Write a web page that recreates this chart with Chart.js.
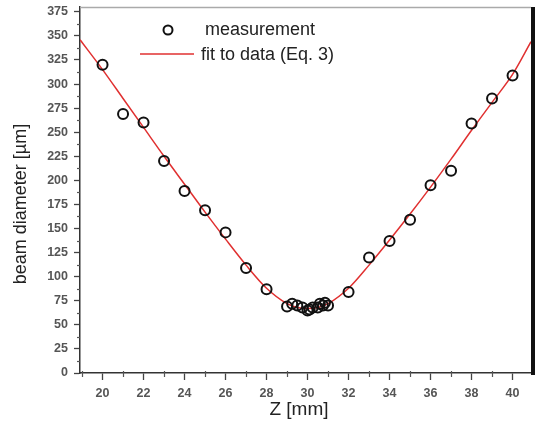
<!DOCTYPE html>
<html><head><meta charset="utf-8">
<script src="https://cdn.jsdelivr.net/npm/chart.js@4/dist/chart.umd.min.js"></script>
<style>html,body{margin:0;padding:0;background:#fff}#wrap{width:538px;height:426px}</style>
</head><body><div id="wrap"><canvas id="c" width="538" height="426"></canvas></div>
<script>
const measZ = [20,21,22,23,24,25,26,27,28,29,29.25,29.5,29.75,30,30.1,30.25,30.5,30.6,30.75,30.85,31,32,33,34,35,36,37,38,39,40];
const measD = [320,269,260,220,189,169,146,109,87,69,72,70,68,65,66,68,68,72,70,73,70,84,120,137,159,195,210,259,285,309];
const fitZ = [18.9,20,21,22,23,24,25,26,27,28,29,29.5,30,30.5,31,32,33,34,35,36,37,38,39,40,40.9];
const fitD = [346,315,285,255,225,196,167,139,112,88,72,68,67,68,72,88,112,138,165,193,222,252,281,310,344];
const xMajorTicks = [20,22,24,26,28,30,32,34,36,38,40];
const yTicks = [0,25,50,75,100,125,150,175,200,225,250,275,300,325,350,375];
const seriesNames = ['measurement','fit to data (Eq. 3)'];
const xTitle = 'Z [mm]';
const yTitle = 'beam diameter [µm]';

const FONT = 'Liberation Sans, Arial, sans-serif';
const deco = {
  id:'deco',
  afterDraw(chart){
    const {ctx, chartArea:a, scales:{x,y}} = chart;
    ctx.save();
    // frame
    ctx.strokeStyle='#aaa'; ctx.lineWidth=1.5;
    ctx.beginPath(); ctx.moveTo(a.left, a.top+0.5); ctx.lineTo(a.right, a.top+0.5); ctx.stroke();
    ctx.strokeStyle='#111'; ctx.lineWidth=4;
    ctx.beginPath(); ctx.moveTo(a.right+2, a.top); ctx.lineTo(a.right+2, a.bottom+2); ctx.stroke();
    // minor ticks
    ctx.strokeStyle='#555'; ctx.lineWidth=1.2;
    for(let v=19; v<=41; v+=2){
      const px=Math.round(x.getPixelForValue(v))+0.5;
      if(px>a.right) continue;
      ctx.beginPath(); ctx.moveTo(px,a.bottom-2); ctx.lineTo(px,a.bottom+4); ctx.stroke(); }
    for(let v=12.5; v<=378; v+=25){
      const py=Math.round(y.getPixelForValue(v))+0.5;
      ctx.beginPath(); ctx.moveTo(a.left,py); ctx.lineTo(a.left-3,py); ctx.stroke(); }
    // legend
    ctx.strokeStyle='#111'; ctx.lineWidth=2;
    ctx.beginPath(); ctx.arc(168,30,4.5,0,Math.PI*2); ctx.stroke();
    ctx.strokeStyle='#e03030'; ctx.lineWidth=1.5;
    ctx.beginPath(); ctx.moveTo(140,54); ctx.lineTo(194,54); ctx.stroke();
    ctx.fillStyle='#222'; ctx.font='18px '+FONT; ctx.textBaseline='middle'; ctx.textAlign='left';
    ctx.fillText(seriesNames[0],205,30);
    ctx.fillText(seriesNames[1],201,55);
    // axis titles
    ctx.font='19px '+FONT; ctx.textAlign='center';
    ctx.fillText(xTitle,299,410);
    ctx.save(); ctx.translate(21,204); ctx.rotate(-Math.PI/2);
    ctx.font='18px '+FONT; ctx.fillText(yTitle,0,0); ctx.restore();
    ctx.restore();
  }
};

new Chart(document.getElementById('c'),{
  type:'scatter',
  data:{datasets:[
    {label:seriesNames[1], type:'line', data:fitZ.map((z,i)=>({x:z,y:fitD[i]})), borderColor:'#e03030', borderWidth:1.5, pointRadius:0, tension:0.4, cubicInterpolationMode:'monotone', fill:false, order:2},
    {label:seriesNames[0], data:measZ.map((z,i)=>({x:z,y:measD[i]})), pointStyle:'circle', pointRadius:5, borderColor:'#111', borderWidth:2, backgroundColor:'rgba(0,0,0,0)', order:1}
  ]},
  options:{
    responsive:false, animation:false, devicePixelRatio:1,
    layout:{padding:{top:6,right:4,left:0,bottom:0}},
    plugins:{legend:{display:false}, tooltip:{enabled:false}},
    scales:{
      x:{type:'linear', min:18.9, max:40.9,
        afterBuildTicks(s){ s.ticks = xMajorTicks.map(v=>({value:v})); },
        afterFit(s){ s.height=53; s.paddingLeft=0; s.paddingRight=0; },
        grid:{drawOnChartArea:false, tickLength:7, tickColor:'#444', tickWidth:1.3},
        border:{display:true, color:'#333', width:1.5},
        ticks:{font:{family:FONT,size:12.5,weight:'bold'}, color:'#555', padding:6, maxRotation:0},
        title:{display:false}
      },
      y:{type:'linear', min:0, max:380,
        afterBuildTicks(s){ s.ticks = yTicks.map(v=>({value:v})); },
        afterFit(s){ s.width=80; s.paddingTop=0; s.paddingBottom=0; },
        grid:{drawOnChartArea:false, tickLength:6, tickColor:'#444', tickWidth:1.3},
        border:{display:true, color:'#333', width:1.5},
        ticks:{font:{family:FONT,size:12.5,weight:'bold'}, color:'#555', padding:6},
        title:{display:false}
      }
    }
  },
  plugins:[deco]
});
</script></body></html>
